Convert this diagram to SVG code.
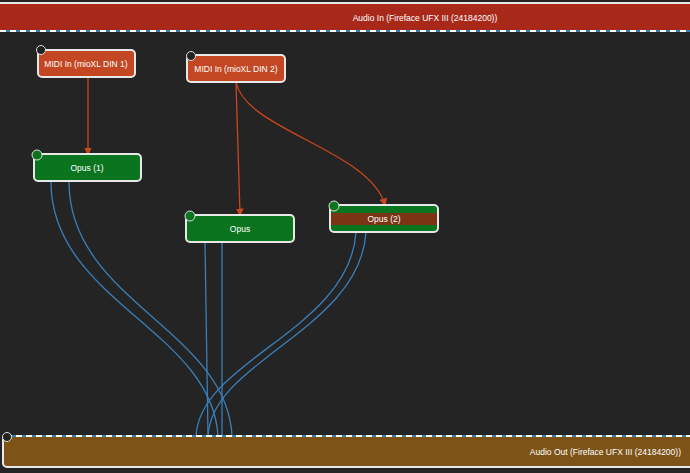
<svg xmlns="http://www.w3.org/2000/svg" width="690" height="473" viewBox="0 0 690 473">
<style>
.t{font-family:"Liberation Sans",Arial,sans-serif;font-size:8.5px;fill:#fff;text-anchor:middle}
.n{stroke:#e8e8e8;stroke-width:2}
.m{fill:none;stroke:#c9461f;stroke-width:1.3}
.a{fill:none;stroke:#3a7fba;stroke-width:1.3}
.d{stroke:#fff;stroke-width:2;stroke-dasharray:6 4;fill:none}
.db{stroke:#3a7fba;stroke-width:2;fill:none}
.ic{fill:#222;stroke:#ddd;stroke-width:1}
</style>
<defs><marker id="ar" viewBox="0 0 6 6" refX="5" refY="3" markerWidth="6" markerHeight="6" orient="auto"><path d="M0,0L6,3L0,6z" fill="#c9461f"/></marker></defs>
<rect width="690" height="473" fill="#242424"/>
<g id="audio-in">
<rect x="-4" y="3" width="700" height="28" fill="#a8291a" class="n"/>
<line x1="0" y1="31" x2="690" y2="31" class="db"/><line x1="0" y1="31" x2="690" y2="31" class="d"/>
<text x="425" y="21" class="t">Audio In (Fireface UFX III (24184200))</text>
</g>
<g id="connectors">
<path d="M88,77V154" class="m" marker-end="url(#ar)"/>
<path d="M236,82L240,215" class="m" marker-end="url(#ar)"/>
<path d="M236,82C245,130 370,150 385,205" class="m" marker-end="url(#ar)"/>
<path d="M51,181C50,300 212,330 218,436" class="a"/>
<path d="M69,181C68,300 227,330 232,436" class="a"/>
<path d="M205,242L208,436" class="a"/>
<path d="M222,242L222,436" class="a"/>
<path d="M356,232C350,330 200,360 196,436" class="a"/>
<path d="M366,232C360,330 212,360 208,436" class="a"/>
</g>
<g id="midi1"><rect x="38" y="50" width="97" height="27" rx="4" fill="#c24722" class="n"/><text x="86" y="67" class="t">MIDI In (mioXL DIN 1)</text><circle cx="41" cy="50" r="4.5" class="ic"/></g>
<g id="midi2"><rect x="187" y="55" width="98" height="27" rx="4" fill="#c24722" class="n"/><text x="236" y="72" class="t">MIDI In (mioXL DIN 2)</text><circle cx="191" cy="56" r="4.5" class="ic"/></g>
<g id="opus1"><rect x="34" y="154" width="107" height="27" rx="4" fill="#0a741e" class="n"/><text x="87" y="171" class="t">Opus (1)</text><circle cx="37" cy="155" r="5" fill="#0a741e" stroke="#ddd"/></g>
<g id="opus"><rect x="186" y="215" width="108" height="27" rx="4" fill="#0a741e" class="n"/><text x="240" y="232" class="t">Opus</text><circle cx="190" cy="216" r="5" fill="#0a741e" stroke="#ddd"/></g>
<g id="opus2"><rect x="330" y="205" width="108" height="27" rx="4" fill="#0a741e" class="n"/><rect x="331" y="213" width="106" height="12" fill="#7b3514"/><text x="384" y="222" class="t">Opus (2)</text><circle cx="334" cy="206" r="5" fill="#0a741e" stroke="#ddd"/></g>
<g id="audio-out">
<rect x="3" y="436" width="700" height="31" rx="4" fill="#7d5317" class="n"/>
<line x1="6" y1="436" x2="690" y2="436" class="db"/><line x1="6" y1="436" x2="690" y2="436" class="d"/>
<text x="681" y="455" class="t" style="text-anchor:end">Audio Out (Fireface UFX III (24184200))</text>
<circle cx="7" cy="437" r="4.5" class="ic"/>
</g>
</svg>
